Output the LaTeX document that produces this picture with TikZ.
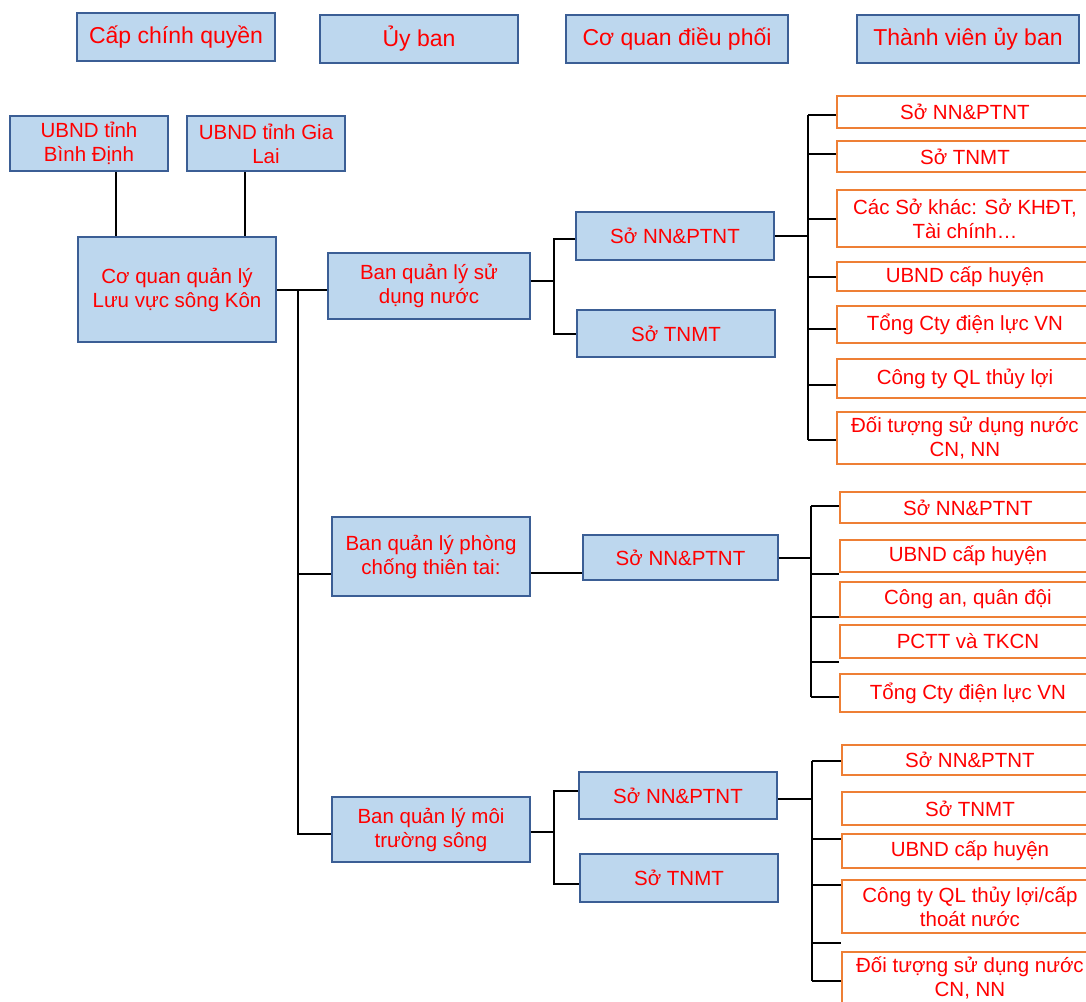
\documentclass[tikz,border=0pt]{standalone}
\usepackage{fontspec}
\setmainfont{Liberation Sans}
\usetikzlibrary{calc}
\definecolor{boxfill}{HTML}{BDD7EE}
\definecolor{boxline}{HTML}{3B5E95}
\definecolor{memline}{HTML}{EE7F35}
\definecolor{txtred}{HTML}{FF0000}
\tikzset{
  base/.style={inner sep=0pt, align=center, text=txtred,
    font=\fontsize{20.5}{24}\selectfont, line width=1.8pt},
  bluebox/.style={base, draw=boxline, fill=boxfill},
  headbox/.style={bluebox, font=\fontsize{23}{27}\selectfont},
  memberbox/.style={base, draw=memline, fill=white, line width=1.9pt,
    minimum width=256pt, anchor=west},
  link/.style={draw=black, line width=2pt},
}
\begin{document}
\begin{tikzpicture}[x=1pt,y=-1pt]
\useasboundingbox (0,0) rectangle (1086,1001);
\clip (0,0) rectangle (1086,1001);
\fill[white] (0,0) rectangle (1086,1001);

% column headings
\node[headbox, minimum width=198pt, minimum height=48pt] (h1) at (176,37) {Cấp chính quyền};
\node[headbox, minimum width=198pt, minimum height=48pt] (h2) at (419,39) {Ủy ban};
\node[headbox, minimum width=222pt, minimum height=48pt] (h3) at (677,39) {Cơ quan điều phối};
\node[headbox, minimum width=222pt, minimum height=48pt] (h4) at (968,39) {Thành viên ủy ban};

% provinces and basin agency
\node[bluebox, minimum width=158pt, minimum height=55pt] (ubd) at (89,143.5) {UBND tỉnh\\Bình Định};
\node[bluebox, minimum width=158pt, minimum height=55pt] (ugl) at (266,143.5) {UBND tỉnh Gia\\Lai};
\node[bluebox, minimum width=198pt, minimum height=105pt] (cq) at (177,289.5) {Cơ quan quản lý\\Lưu vực sông Kôn};

% committees
\node[bluebox, minimum width=202pt, minimum height=66pt] (ban1) at (429,286) {Ban quản lý sử\\dụng nước};
\node[bluebox, minimum width=198pt, minimum height=79pt] (ban2) at (431,556.5) {Ban quản lý phòng\\chống thiên tai:};
\node[bluebox, minimum width=198pt, minimum height=65pt] (ban3) at (431,829.5) {Ban quản lý môi\\trường sông};

% coordinating departments
\node[bluebox, minimum width=198pt, minimum height=48pt] (s1a) at (675,236) {Sở NN\&PTNT};
\node[bluebox, minimum width=198pt, minimum height=47pt] (s1b) at (676,333.5) {Sở TNMT};
\node[bluebox, minimum width=195pt, minimum height=45pt] (s2a) at (680.5,557.5) {Sở NN\&PTNT};
\node[bluebox, minimum width=198pt, minimum height=47pt] (s3a) at (678,795.5) {Sở NN\&PTNT};
\node[bluebox, minimum width=198pt, minimum height=48pt] (s3b) at (679,878) {Sở TNMT};

% members: water use committee
\node[memberbox, minimum height=32pt] (g1m1) at (836,112) {Sở NN\&PTNT};
\node[memberbox, minimum height=31pt] (g1m2) at (836,156.5) {Sở TNMT};
\node[memberbox, minimum height=57pt] (g1m3) at (836,218.5) {Các Sở khác: Sở KHĐT,\\Tài chính…};
\node[memberbox, minimum height=29pt] (g1m4) at (836,276.5) {UBND cấp huyện};
\node[memberbox, minimum height=37pt] (g1m5) at (836,324.5) {Tổng Cty điện lực VN};
\node[memberbox, minimum height=39pt] (g1m6) at (836,378.5) {Công ty QL thủy lợi};
\node[memberbox, minimum height=52pt] (g1m7) at (836,438) {Đối tượng sử dụng nước\\CN, NN};

% members: disaster prevention committee
\node[memberbox, minimum height=31pt] (g2m1) at (839,507.5) {Sở NN\&PTNT};
\node[memberbox, minimum height=32pt] (g2m2) at (839,556) {UBND cấp huyện};
\node[memberbox, minimum height=35pt] (g2m3) at (839,599.5) {Công an, quân đội};
\node[memberbox, minimum height=33pt] (g2m4) at (839,641.5) {PCTT và TKCN};
\node[memberbox, minimum height=38pt] (g2m5) at (839,693) {Tổng Cty điện lực VN};

% members: river environment committee
\node[memberbox, minimum height=30pt] (g3m1) at (841,760) {Sở NN\&PTNT};
\node[memberbox, minimum height=33pt] (g3m2) at (841,808.5) {Sở TNMT};
\node[memberbox, minimum height=34pt] (g3m3) at (841,851) {UBND cấp huyện};
\node[memberbox, minimum height=53pt] (g3m4) at (841,906.5) {Công ty QL thủy lợi/cấp\\thoát nước};
\node[memberbox, minimum height=52pt] (g3m5) at (841,978) {Đối tượng sử dụng nước\\CN, NN};

% x positions of the vertical trunks
\path (298,0) coordinate (tx) (808,0) coordinate (v1) (811,0) coordinate (v2) (812,0) coordinate (v3);

% provinces to agency
\draw[link] ([xshift=27pt]ubd.south) -- ([xshift=27pt]ubd.south |- cq.north);
\draw[link] ([xshift=-21pt]ugl.south) -- ([xshift=-21pt]ugl.south |- cq.north);

% agency to committees
\draw[link] (cq.east) -- (cq.east -| ban1.west);
\draw[link] (cq.east -| tx) |- ([yshift=-17pt]ban2.west);
\draw[link] (cq.east -| tx) |- ([yshift=-4.5pt]ban3.west);

% committees to departments
\draw[link] ([yshift=5pt]ban1.east) -- ++(23,0) coordinate (j1);
\draw[link] ([yshift=-3pt]s1a.west) -| (j1) |- (s1b.west);
\draw[link] ([yshift=-16.5pt]ban2.east) -- ([yshift=-16.5pt]ban2.east -| s2a.west);
\draw[link] ([yshift=-2.5pt]ban3.east) -- ++(23,0) coordinate (j3);
\draw[link] ([yshift=4.5pt]s3a.west) -| (j3) |- ([yshift=-6pt]s3b.west);

% departments to members, group 1
\draw[link] (s1a.east) -- (s1a.east -| v1);
\foreach \m/\d in {1/-3pt,2/2.5pt,3/0pt,4/0pt,5/-4.5pt,6/-6.5pt,7/-2pt}
  \draw[link] ([yshift=\d]g1m\m.west) -- ([yshift=\d]g1m\m.west -| v1);
\draw[link] ([yshift=-3pt]g1m1.west -| v1) -- ([yshift=-2pt]g1m7.west -| v1);

% group 2
\draw[link] (s2a.east) -- (s2a.east -| v2);
\foreach \m/\d in {1/1.5pt,2/-18pt,3/-17.5pt,4/-20.5pt,5/-4pt}
  \draw[link] ([yshift=\d]g2m\m.west) -- ([yshift=\d]g2m\m.west -| v2);
\draw[link] ([yshift=1.5pt]g2m1.west -| v2) -- ([yshift=-4pt]g2m5.west -| v2);

% group 3
\draw[link] ([yshift=-3.5pt]s3a.east) -- ([yshift=-3.5pt]s3a.east -| v3);
\foreach \m/\d in {1/-1pt,3/12pt,4/21.5pt,5/-3pt}
  \draw[link] ([yshift=\d]g3m\m.west) -- ([yshift=\d]g3m\m.west -| v3);
\coordinate (gap3) at ($(g3m4.south west)!0.5!(g3m5.north west)$);
\draw[link] (gap3 -| v3) -- (gap3);
\draw[link] ([yshift=-1pt]g3m1.west -| v3) -- ([yshift=-3pt]g3m5.west -| v3);
\end{tikzpicture}
\end{document}
